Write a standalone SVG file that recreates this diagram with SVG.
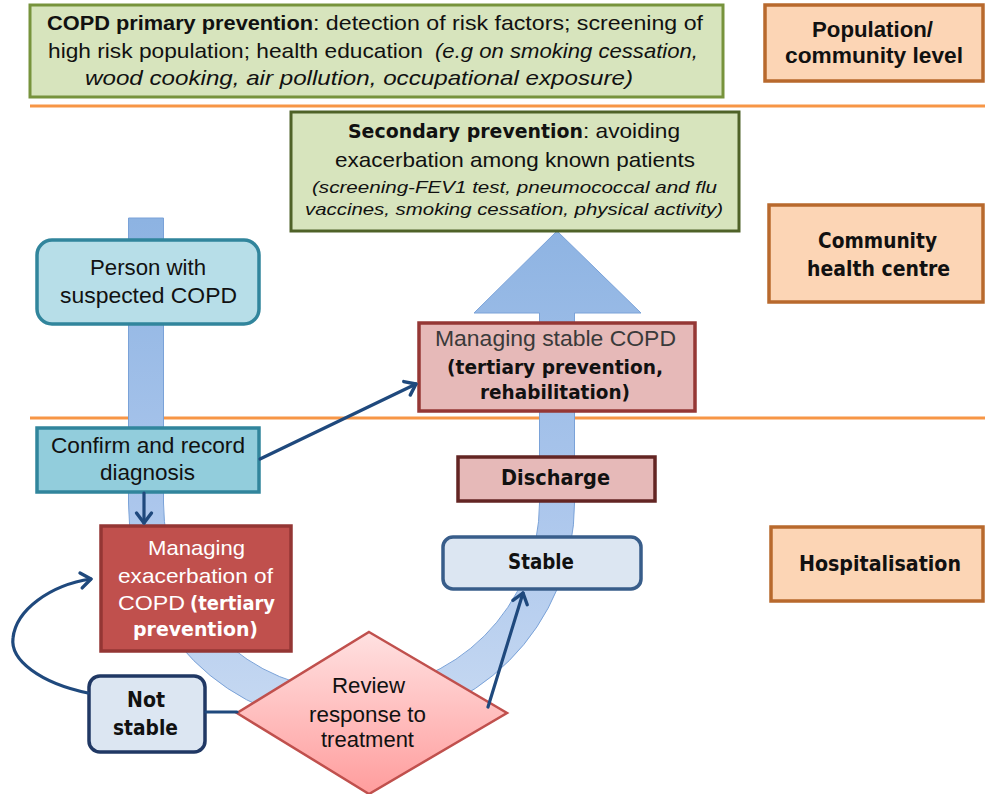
<svg xmlns="http://www.w3.org/2000/svg" width="985" height="794" viewBox="0 0 985 794">
  <defs>
    <linearGradient id="bandFill" gradientUnits="userSpaceOnUse" x1="0" y1="220" x2="0" y2="730">
      <stop offset="0" stop-color="#8db3e2"/>
      <stop offset="0.55" stop-color="#abc6ec"/>
      <stop offset="1" stop-color="#c8daf2"/>
    </linearGradient>
    <linearGradient id="diamondFill" x1="0" y1="0" x2="0" y2="1">
      <stop offset="0" stop-color="#ffe1e1"/>
      <stop offset="1" stop-color="#ff9d9d"/>
    </linearGradient>
    <marker id="openArrow" markerUnits="userSpaceOnUse" markerWidth="24" markerHeight="24" viewBox="-14 -12 18 24" refX="0" refY="0" orient="auto" overflow="visible">
      <path d="M-10,-7.5 L0,0 L-10,7.5" fill="none" stroke="#1f497d" stroke-width="3.4" stroke-linecap="round" stroke-linejoin="round"/>
    </marker>
  </defs>
  <style>
    text { fill: #111; }
    .arial { font-family: "Liberation Sans", Arial, sans-serif; }
    .tah { font-family: "DejaVu Sans", Verdana, sans-serif; font-weight: bold; }
    .b { font-weight: bold; }
    .i { font-style: italic; }
    .green { fill: #d7e4bd; stroke-width: 3; }
    .level { fill: #fcd5b5; stroke: #b8692d; stroke-width: 3.5; }
    .sep { stroke: #f79646; stroke-width: 3; }
    .conn { fill: none; stroke: #1f497d; stroke-width: 3.2; stroke-linecap: round; }
    .white { fill: #ffffff; }
    .grey { fill: #3a3a3a; }
  </style>

  <rect width="985" height="794" fill="#ffffff"/>

  <!-- level separators -->
  <g id="separators">
    <line class="sep" x1="30" y1="106" x2="985" y2="106"/>
    <line class="sep" x1="30" y1="418" x2="985" y2="418"/>
  </g>

  <!-- broad U-shaped pathway arrow -->
  <g id="pathway">
    <path d="M128.5,218 L128.5,503 A223,223 0 0 0 574.5,503 L574.5,313 L641,313 L557,231 L474,313 L539.5,313 L539.5,503 A188,188 0 0 1 163.5,503 L163.5,218 Z" fill="url(#bandFill)" stroke="#7aa2d8" stroke-width="1"/>
  </g>

  <g id="primary">
    <rect class="green" x="30" y="5" width="693" height="92" stroke="#77933c"/>
    <text class="arial b" x="47" y="30" font-size="21" textLength="266" lengthAdjust="spacingAndGlyphs">COPD primary prevention</text>
    <text class="arial" x="313" y="30" font-size="21" textLength="390" lengthAdjust="spacingAndGlyphs">: detection of risk factors; screening of</text>
    <text class="arial" x="48" y="58" font-size="21" textLength="375" lengthAdjust="spacingAndGlyphs">high risk population; health education</text>
    <text class="arial i" x="435" y="58" font-size="21" textLength="263" lengthAdjust="spacingAndGlyphs">(e.g on smoking cessation,</text>
    <text class="arial i" x="85" y="85" font-size="21" textLength="548" lengthAdjust="spacingAndGlyphs">wood cooking, air pollution, occupational exposure)</text>
  </g>

  <g id="level-population">
    <rect class="level" x="765" y="5" width="218" height="76"/>
    <text class="arial b" x="812" y="37" font-size="21.5" textLength="121" lengthAdjust="spacingAndGlyphs">Population/</text>
    <text class="arial b" x="785" y="63" font-size="21.5" textLength="178" lengthAdjust="spacingAndGlyphs">community level</text>
  </g>

  <g id="secondary">
    <rect class="green" x="291" y="112" width="448" height="119" stroke="#4f6228" stroke-width="3.5"/>
    <text class="tah" x="348" y="138" font-size="19.5" textLength="235" lengthAdjust="spacingAndGlyphs">Secondary prevention</text>
    <text class="arial" x="583" y="138" font-size="21" textLength="97" lengthAdjust="spacingAndGlyphs">: avoiding</text>
    <text class="arial" x="335" y="167" font-size="21" textLength="360" lengthAdjust="spacingAndGlyphs">exacerbation among known patients</text>
    <text class="arial i" x="312" y="193" font-size="17" textLength="405" lengthAdjust="spacingAndGlyphs">(screening-FEV1 test, pneumococcal and flu</text>
    <text class="arial i" x="305" y="215" font-size="17" textLength="418" lengthAdjust="spacingAndGlyphs">vaccines, smoking cessation, physical activity)</text>
  </g>

  <g id="level-community">
    <rect class="level" x="769" y="205" width="214" height="97"/>
    <text class="tah" x="818" y="248" font-size="21" textLength="119" lengthAdjust="spacingAndGlyphs">Community</text>
    <text class="tah" x="807" y="276" font-size="21" textLength="143" lengthAdjust="spacingAndGlyphs">health centre</text>
  </g>

  <g id="suspected">
    <rect x="37" y="240" width="222" height="84" rx="15" fill="#b7dee8" stroke="#31859c" stroke-width="3.5"/>
    <text class="arial" x="90" y="275" font-size="22" textLength="116" lengthAdjust="spacingAndGlyphs">Person with</text>
    <text class="arial" x="60" y="303" font-size="22" textLength="177" lengthAdjust="spacingAndGlyphs">suspected COPD</text>
  </g>

  <g id="managing-stable">
    <rect x="419" y="323" width="276" height="88" fill="#e6b9b8" stroke="#953735" stroke-width="3.5"/>
    <text class="arial grey" x="435" y="346" font-size="21.5" textLength="241" lengthAdjust="spacingAndGlyphs">Managing stable COPD</text>
    <text class="tah" x="447" y="374" font-size="20" textLength="216" lengthAdjust="spacingAndGlyphs">(tertiary prevention,</text>
    <text class="tah" x="480" y="399" font-size="20" textLength="150" lengthAdjust="spacingAndGlyphs">rehabilitation)</text>
  </g>

  <g id="confirm">
    <rect x="37" y="428" width="222" height="64" fill="#92cddc" stroke="#31859c" stroke-width="3.5"/>
    <text class="arial" x="51" y="453" font-size="22" textLength="194" lengthAdjust="spacingAndGlyphs">Confirm and record</text>
    <text class="arial" x="100" y="480" font-size="22" textLength="95" lengthAdjust="spacingAndGlyphs">diagnosis</text>
  </g>

  <g id="discharge">
    <rect x="458" y="457" width="197" height="44" fill="#e6b9b8" stroke="#632523" stroke-width="3.5"/>
    <text class="tah" x="501" y="485" font-size="20.5" textLength="109" lengthAdjust="spacingAndGlyphs">Discharge</text>
  </g>

  <g id="level-hospital">
    <rect class="level" x="771" y="527" width="212" height="74"/>
    <text class="tah" x="799" y="571" font-size="21" textLength="162" lengthAdjust="spacingAndGlyphs">Hospitalisation</text>
  </g>

  <g id="exacerbation">
    <rect x="101" y="526" width="190" height="125" fill="#c0504d" stroke="#943634" stroke-width="3.5"/>
    <text class="arial white" x="148" y="555" font-size="21" textLength="97" lengthAdjust="spacingAndGlyphs">Managing</text>
    <text class="arial white" x="118" y="583" font-size="21" textLength="155" lengthAdjust="spacingAndGlyphs">exacerbation of</text>
    <text class="arial white" x="118" y="610" font-size="21" textLength="67" lengthAdjust="spacingAndGlyphs">COPD</text>
    <text class="tah white" x="190" y="610" font-size="20" textLength="85" lengthAdjust="spacingAndGlyphs">(tertiary</text>
    <text class="tah white" x="133" y="636" font-size="20" textLength="125" lengthAdjust="spacingAndGlyphs">prevention)</text>
  </g>

  <g id="stable">
    <rect x="443" y="537" width="198" height="52" rx="10" fill="#dce6f2" stroke="#385d8a" stroke-width="3.5"/>
    <text class="tah" x="508" y="569" font-size="21" textLength="66" lengthAdjust="spacingAndGlyphs">Stable</text>
  </g>

  <g id="not-stable">
    <rect x="89" y="676" width="116" height="76" rx="11" fill="#dce6f2" stroke="#203864" stroke-width="3.5"/>
    <text class="tah" x="127" y="707" font-size="21" textLength="38" lengthAdjust="spacingAndGlyphs">Not</text>
    <text class="tah" x="113" y="735" font-size="21" textLength="65" lengthAdjust="spacingAndGlyphs">stable</text>
  </g>

  <g id="review">
    <polygon points="369,632 507,713 369,794 237,713" fill="url(#diamondFill)" stroke="#c0504d" stroke-width="2.5"/>
    <text class="arial" x="332" y="693" font-size="21.5" textLength="73" lengthAdjust="spacingAndGlyphs">Review</text>
    <text class="arial" x="309" y="722" font-size="21.5" textLength="117" lengthAdjust="spacingAndGlyphs">response to</text>
    <text class="arial" x="321" y="747" font-size="21.5" textLength="93" lengthAdjust="spacingAndGlyphs">treatment</text>
  </g>

  <!-- connectors -->
  <g id="connectors">
    <path class="conn" d="M260,459 L416,384" marker-end="url(#openArrow)"/>
    <path class="conn" d="M144,493 L144,523" marker-end="url(#openArrow)"/>
    <path class="conn" d="M488,707 L523,593" marker-end="url(#openArrow)"/>
    <path class="conn" d="M206,712 L237,712"/>
    <path class="conn" d="M88,693 C40,683 10,660 13,638 C16,610 50,585 91,579" marker-end="url(#openArrow)"/>
  </g>
</svg>
